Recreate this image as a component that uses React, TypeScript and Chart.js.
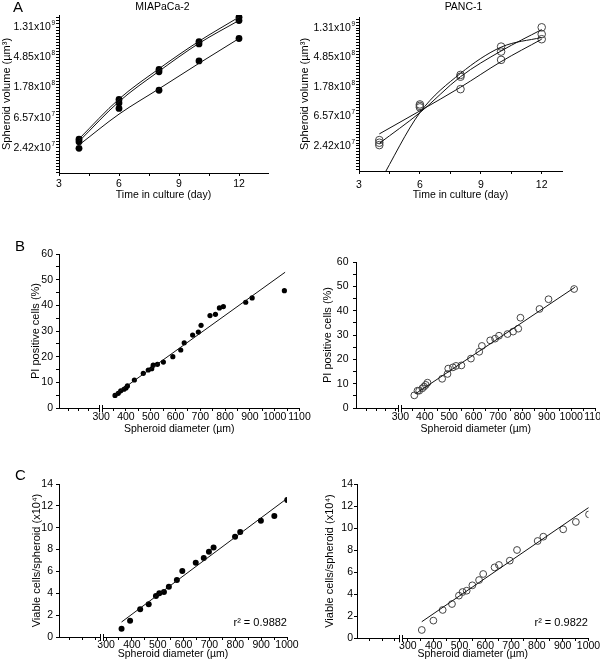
import React, { useEffect, useRef } from 'react';
import { Chart, registerables } from 'chart.js';

Chart.register(...registerables);

const FONT = '"Liberation Sans", Arial, Helvetica, sans-serif';

// ---------------- data ----------------
// Panel A : spheroid volume (µm³) vs time in culture (day)
const DAYS = [4, 6, 8, 10, 12];
const A_X_TICKS = [3, 6, 9, 12];
const A_Y_TICKS = [2.42e7, 6.57e7, 1.78e8, 4.85e8, 1.31e9];

// MIAPaCa-2 replicates
const MIA_VOL_1 = [3.23e7, 1.2e8, 3.25e8, 8.16e8, 1.82e9];
const MIA_VOL_2 = [2.98e7, 1.07e8, 3.0e8, 7.53e8, 1.63e9];
const MIA_VOL_3 = [2.39e7, 8.95e7, 1.63e8, 4.3e8, 9.02e8];
// MIAPaCa-2 fitted growth curves
const MIA_FIT_1 = [3.26e7, 1.22e8, 3.32e8, 8.24e8, 1.83e9];
const MIA_FIT_2 = [3.01e7, 1.12e8, 3.06e8, 7.69e8, 1.64e9];
const MIA_FIT_3 = [2.67e7, 7.4e7, 1.71e8, 3.97e8, 9.02e8];

// PANC-1 replicates
const PANC_VOL_1 = [2.95e7, 9.89e7, 2.69e8, 7.02e8, 1.35e9];
const PANC_VOL_2 = [2.7e7, 9.41e7, 2.53e8, 5.93e8, 1.07e9];
const PANC_VOL_3 = [2.49e7, 8.95e7, 1.66e8, 4.48e8, 9.02e8];
// PANC-1 fitted growth curves
const PANC_FIT_1 = [3.64e7, 7.94e7, 1.77e8, 4.22e8, 9.02e8];
const PANC_FIT_2 = [2.64e7, 7.48e7, 2.53e8, 6.05e8, 1.25e9];
const PANC_FIT_3 = [6.92e6, 7.48e7, 2.83e8, 6.89e8, 9.58e8];

// Panel B : PI positive cells (%) vs spheroid diameter (µm)
const DIAM_TICKS_B = [300, 400, 500, 600, 700, 800, 900, 1000, 1100];
const PI_TICKS = [0, 10, 20, 30, 40, 50, 60];

const MIA_PI_DIAM = [356, 369, 379, 392, 400, 406, 434, 470, 490, 504, 510, 527, 551, 589, 621, 635, 669, 692, 703, 739, 761, 777, 793, 883, 909, 1039];
const MIA_PI = [4.9, 5.7, 6.7, 7.3, 7.8, 8.6, 10.9, 13.5, 14.8, 15.3, 16.7, 17.0, 17.9, 20.0, 22.6, 25.4, 28.4, 29.6, 32.2, 36.0, 36.5, 39.0, 39.5, 41.2, 42.9, 45.7];
const MIA_PI_FIT_DIAM = [349, 1042];
const MIA_PI_FIT = [4.8, 52.9];

const PANC_PI_DIAM = [357, 370, 377, 390, 397, 404, 411, 471, 493, 496, 515, 528, 550, 589, 623, 634, 668, 688, 704, 739, 762, 783, 792, 870, 907, 1012];
const PANC_PI = [5.2, 7.1, 7.1, 8.1, 8.8, 9.5, 10.4, 12.0, 14.0, 16.2, 16.7, 17.3, 17.5, 20.3, 23.1, 25.5, 27.8, 28.5, 29.7, 30.4, 31.4, 32.6, 37.1, 40.7, 44.7, 48.9];
const PANC_PI_FIT_DIAM = [364, 1015];
const PANC_PI_FIT = [6.0, 49.6];

// Panel C : viable cells/spheroid (x10⁴) vs spheroid diameter (µm)
const DIAM_TICKS_C = [300, 400, 500, 600, 700, 800, 900, 1000];
const CELL_TICKS = [0, 2, 4, 6, 8, 10, 12, 14];

const MIA_CELL_DIAM = [360, 393, 432, 465, 493, 506, 524, 543, 574, 595, 647, 678, 698, 716, 799, 819, 899, 951, 1001];
const MIA_CELLS = [0.76, 1.49, 2.53, 2.99, 3.75, 4.0, 4.12, 4.6, 5.21, 6.04, 6.8, 7.23, 7.8, 8.2, 9.18, 9.6, 10.64, 11.07, 12.53];
const MIA_CELL_FIT_DIAM = [360, 1001];
const MIA_CELL_FIT = [1.37, 12.69];
const MIA_R2 = 'r\u00B2 = 0.9882';

const PANC_CELL_DIAM = [354, 399, 435, 471, 498, 512, 528, 550, 576, 592, 636, 653, 695, 723, 803, 825, 902, 951, 1002];
const PANC_CELLS = [0.73, 1.58, 2.55, 3.09, 3.85, 4.18, 4.3, 4.79, 5.27, 5.82, 6.42, 6.64, 7.03, 8.0, 8.82, 9.21, 9.88, 10.55, 11.24];
const PANC_CELL_FIT_DIAM = [354, 1002];
const PANC_CELL_FIT = [1.48, 11.88];
const PANC_R2 = 'r\u00B2 = 0.9822';

// ---------------- helpers ----------------
const pts = (xs: number[], ys: number[]) => xs.map((x, i) => ({ x, y: ys[i] }));

const dots = (xs: number[], ys: number[], r: number) => ({
  data: pts(xs, ys),
  showLine: false,
  pointRadius: r,
  pointBackgroundColor: '#000',
  pointBorderColor: '#000',
  pointBorderWidth: 0,
  pointHoverRadius: r,
});

const rings = (xs: number[], ys: number[], r: number) => ({
  data: pts(xs, ys),
  showLine: false,
  pointRadius: r,
  pointBackgroundColor: 'rgba(255,255,255,0)',
  pointBorderColor: '#444',
  pointBorderWidth: 1,
  pointHoverRadius: r,
});

const curve = (xs: number[], ys: number[], smooth: boolean) => ({
  data: pts(xs, ys),
  showLine: true,
  pointRadius: 0,
  borderColor: '#111',
  borderWidth: 1,
  fill: false,
  cubicInterpolationMode: smooth ? 'monotone' : 'default',
  tension: 0,
});

type Seg = [number, number, number];

interface AxisCfg {
  type: 'linear' | 'logarithmic';
  min: number;
  max: number;
  ticks: number[];
  title: string;
  titleSize: number;
  titlePad: number;
  tickPad: number;
  hideLabels?: boolean;
}

interface PanelCfg {
  id: string;
  left: number;
  top: number;
  width: number;
  height: number;
  padTop: number;
  padRight: number;
  yWidth: number;
  xHeight: number;
  x: AxisCfg;
  y: AxisCfg;
  datasets: any[];
  xMinor?: Seg[];
  yMinor?: Seg[];
  yLogMinorStep?: number;
  breakAt?: number;
  sciGap?: number;
}

function decorPlugin(p: PanelCfg) {
  return {
    id: 'decor_' + p.id,
    // clip fitted curves to the plotting area
    beforeDatasetDraw(chart: any, args: any) {
      const ds = chart.data.datasets[args.index];
      if (!ds || !ds.showLine) return;
      const a = chart.chartArea;
      const ctx = chart.ctx;
      ctx.save();
      ctx.beginPath();
      ctx.rect(a.left, a.top - 0.5, a.right - a.left + 0.5, a.bottom - a.top + 0.5);
      ctx.clip();
    },
    afterDatasetDraw(chart: any, args: any) {
      const ds = chart.data.datasets[args.index];
      if (!ds || !ds.showLine) return;
      chart.ctx.restore();
    },
    afterDraw(chart: any) {
      const ctx = chart.ctx;
      const xs = chart.scales.x;
      const ys = chart.scales.y;
      const a = chart.chartArea;
      const len = 2;
      ctx.save();
      ctx.strokeStyle = '#000';
      ctx.lineWidth = 1;
      const near = (v: number, arr: number[]) => arr.some((t) => Math.abs(t - v) < 1e-6 * Math.max(1, Math.abs(t)));
      const gapL = p.breakAt !== undefined ? xs.getPixelForValue(p.breakAt) - 2.5 : -1;
      const gapR = p.breakAt !== undefined ? gapL + 5 : -1;
      // x minor ticks
      (p.xMinor || []).forEach(([s, e, st]) => {
        for (let v = s; v <= e + 1e-9; v += st) {
          if (v < p.x.min || v > p.x.max || near(v, p.x.ticks)) continue;
          const px = xs.getPixelForValue(v);
          if (px > gapL && px < gapR) continue;
          const x = Math.round(px - 0.5) + 0.5;
          ctx.beginPath();
          ctx.moveTo(x, a.bottom);
          ctx.lineTo(x, a.bottom + 1 + len);
          ctx.stroke();
        }
      });
      // y minor ticks (linear)
      (p.yMinor || []).forEach(([s, e, st]) => {
        for (let v = s; v <= e + 1e-9; v += st) {
          if (v < p.y.min || v > p.y.max || near(v, p.y.ticks)) continue;
          const py = ys.getPixelForValue(v);
          const y = Math.round(py - 0.5) + 0.5;
          ctx.beginPath();
          ctx.moveTo(a.left - 1 - len, y);
          ctx.lineTo(a.left, y);
          ctx.stroke();
        }
      });
      // y minor ticks (log axis, natural-log steps)
      if (p.yLogMinorStep) {
        const st = p.yLogMinorStep;
        const k0 = Math.ceil(Math.log(p.y.min) / st);
        const k1 = Math.floor(Math.log(p.y.max) / st);
        for (let k = k0; k <= k1; k++) {
          if (Math.abs(Math.round(k * st) - k * st) < 1e-6) continue;
          const py = ys.getPixelForValue(Math.exp(k * st));
          const y = Math.round(py - 0.5) + 0.5;
          ctx.beginPath();
          ctx.moveTo(a.left - 1 - len, y);
          ctx.lineTo(a.left, y);
          ctx.stroke();
        }
      }
      // axis break
      if (p.breakAt !== undefined) {
        const bp = xs.getPixelForValue(p.breakAt);
        const xl = Math.floor(bp - 1.5) + 0.5;
        const xr = xl + 3;
        ctx.fillStyle = '#fff';
        ctx.fillRect(xl + 0.5, a.bottom - 1, xr - xl - 1, 6);
        ctx.beginPath();
        ctx.moveTo(xl, a.bottom - 3);
        ctx.lineTo(xl, a.bottom + 4);
        ctx.moveTo(xr, a.bottom - 3);
        ctx.lineTo(xr, a.bottom + 4);
        ctx.stroke();
      }
      // scientific labels with superscript exponents
      if (p.sciGap !== undefined) {
        ctx.fillStyle = '#000';
        ctx.textBaseline = 'middle';
        ctx.textAlign = 'left';
        const R = a.left - p.sciGap;
        p.y.ticks.forEach((v) => {
          const ex = Math.floor(Math.log10(v) + 1e-9);
          const mant = (v / Math.pow(10, ex)).toFixed(2);
          const base = mant + 'x10';
          const expTxt = String(ex);
          ctx.font = `6.5px ${FONT}`;
          const wExp = ctx.measureText(expTxt).width;
          ctx.font = `10.5px ${FONT}`;
          const wBase = ctx.measureText(base).width;
          const py = ys.getPixelForValue(v);
          const xb = R - wExp - 0.5 - wBase;
          ctx.fillText(base, xb, py);
          ctx.font = `6.5px ${FONT}`;
          ctx.fillText(expTxt, xb + wBase + 0.5, py - 4);
        });
      }
      ctx.restore();
    },
  };
}

function scaleOpts(ax: AxisCfg, isX: boolean, fixed: number) {
  return {
    type: ax.type,
    position: isX ? 'bottom' : 'left',
    min: ax.min,
    max: ax.max,
    afterBuildTicks: (s: any) => {
      s.ticks = ax.ticks.map((v) => ({ value: v }));
    },
    afterFit: (s: any) => {
      if (isX) s.height = fixed;
      else s.width = fixed;
      s.paddingLeft = 0;
      s.paddingRight = 0;
      s.paddingTop = 0;
      s.paddingBottom = 0;
    },
    grid: {
      display: true,
      drawOnChartArea: false,
      drawTicks: true,
      tickLength: 3,
      color: '#000',
      lineWidth: 1,
    },
    border: { display: true, color: '#000', width: 1 },
    ticks: {
      autoSkip: false,
      maxRotation: 0,
      minRotation: 0,
      padding: ax.tickPad,
      color: '#000',
      font: { family: FONT, size: 10.5 },
      callback: (v: any) => (ax.hideLabels ? '' : String(v)),
    },
    title: {
      display: true,
      text: ax.title,
      color: '#000',
      font: { family: FONT, size: ax.titleSize },
      padding: isX ? { top: 0, bottom: 0 } : { top: ax.titlePad, bottom: 0 },
    },
  };
}

function buildConfig(p: PanelCfg): any {
  return {
    type: 'scatter',
    data: { datasets: p.datasets },
    options: {
      responsive: false,
      maintainAspectRatio: false,
      animation: false,
      events: [],
      layout: { padding: { left: 0, top: p.padTop, right: p.padRight, bottom: 0 } },
      plugins: {
        legend: { display: false },
        tooltip: { enabled: false },
        title: { display: false },
      },
      scales: {
        x: scaleOpts(p.x, true, p.xHeight),
        y: scaleOpts(p.y, false, p.yWidth),
      },
    },
    plugins: [decorPlugin(p)],
  };
}

// ---------------- panel configurations ----------------
const TIME_TITLE = 'Time in culture (day)';
const VOL_TITLE = 'Spheroid volume (\u00B5m\u00B3)';
const DIAM_TITLE = 'Spheroid diameter (\u00B5m)';
const PI_TITLE = 'PI positive cells (%)';
const CELL_TITLE = 'Viable cells/spheroid (x10\u2074)';

const PANELS: PanelCfg[] = [
  {
    id: 'a1', left: 0, top: 0, width: 285, height: 201, padTop: 15, padRight: 17, yWidth: 59, xHeight: 28,
    x: { type: 'linear', min: 3, max: 13.45, ticks: A_X_TICKS, title: TIME_TITLE, titleSize: 10.5, titlePad: 0, tickPad: 1.6 },
    y: { type: 'logarithmic', min: 1.0575e7, max: 1.9616e9, ticks: A_Y_TICKS, title: VOL_TITLE, titleSize: 11, titlePad: 0, tickPad: 1, hideLabels: true },
    datasets: [
      curve(DAYS, MIA_FIT_1, true),
      curve(DAYS, MIA_FIT_2, true),
      curve(DAYS, MIA_FIT_3, true),
      dots(DAYS, MIA_VOL_1, 3.4),
      dots(DAYS, MIA_VOL_2, 3.4),
      dots(DAYS, MIA_VOL_3, 3.4),
    ],
    xMinor: [[4.5, 13.5, 1.5]],
    yLogMinorStep: 0.1,
    sciGap: 4,
  },
  {
    id: 'a2', left: 298, top: 0, width: 290, height: 201, padTop: 17, padRight: 26, yWidth: 61, xHeight: 30,
    x: { type: 'linear', min: 3, max: 13, ticks: A_X_TICKS, title: TIME_TITLE, titleSize: 10.5, titlePad: 0, tickPad: 5.2 },
    y: { type: 'logarithmic', min: 1.0355e7, max: 1.915e9, ticks: A_Y_TICKS, title: VOL_TITLE, titleSize: 11, titlePad: 0, tickPad: 1, hideLabels: true },
    datasets: [
      curve(DAYS, PANC_FIT_1, true),
      curve(DAYS, PANC_FIT_2, true),
      curve(DAYS, PANC_FIT_3, true),
      rings(DAYS, PANC_VOL_1, 3.8),
      rings(DAYS, PANC_VOL_2, 3.8),
      rings(DAYS, PANC_VOL_3, 3.8),
    ],
    xMinor: [[4.5, 13.5, 1.5]],
    yLogMinorStep: 0.1,
    sciGap: 4,
  },
  {
    id: 'b1', left: 0, top: 230, width: 320, height: 205, padTop: 24, padRight: 20.5, yWidth: 59, xHeight: 27,
    x: { type: 'linear', min: 130, max: 1100, ticks: DIAM_TICKS_B, title: DIAM_TITLE, titleSize: 10.5, titlePad: 0, tickPad: 0 },
    y: { type: 'linear', min: 0, max: 60, ticks: PI_TICKS, title: PI_TITLE, titleSize: 11, titlePad: 29, tickPad: 3 },
    datasets: [
      curve(MIA_PI_FIT_DIAM, MIA_PI_FIT, false),
      dots(MIA_PI_DIAM, MIA_PI, 2.6),
    ],
    xMinor: [[170, 260, 40], [350, 1050, 100]],
    yMinor: [[5, 55, 10]],
    breakAt: 300,
  },
  {
    id: 'b2', left: 300, top: 230, width: 300, height: 205, padTop: 32, padRight: 1.7, yWidth: 56, xHeight: 27,
    x: { type: 'linear', min: 118, max: 1100, ticks: DIAM_TICKS_B, title: DIAM_TITLE, titleSize: 10.5, titlePad: 0, tickPad: 0 },
    y: { type: 'linear', min: 0, max: 60, ticks: PI_TICKS, title: PI_TITLE, titleSize: 11, titlePad: 20.9, tickPad: 4.5 },
    datasets: [
      curve(PANC_PI_FIT_DIAM, PANC_PI_FIT, false),
      rings(PANC_PI_DIAM, PANC_PI, 3.4),
    ],
    xMinor: [[160, 280, 40], [350, 1050, 100]],
    yMinor: [[5, 55, 10]],
    breakAt: 300,
  },
  {
    id: 'c1', left: 0, top: 460, width: 300, height: 200, padTop: 24, padRight: 13, yWidth: 59, xHeight: 23,
    x: { type: 'linear', min: 118, max: 1000, ticks: DIAM_TICKS_C, title: DIAM_TITLE, titleSize: 10.5, titlePad: 0, tickPad: -1.3 },
    y: { type: 'linear', min: 0, max: 14, ticks: CELL_TICKS, title: CELL_TITLE, titleSize: 11, titlePad: 30.4, tickPad: 3 },
    datasets: [
      curve(MIA_CELL_FIT_DIAM, MIA_CELL_FIT, false),
      dots(MIA_CELL_DIAM, MIA_CELLS, 3.0),
    ],
    xMinor: [[160, 260, 50], [350, 950, 100]],
    breakAt: 283,
  },
  {
    id: 'c2', left: 300, top: 460, width: 300, height: 200, padTop: 24, padRight: 11.5, yWidth: 57, xHeight: 22,
    x: { type: 'linear', min: 103, max: 1000, ticks: DIAM_TICKS_C, title: DIAM_TITLE, titleSize: 10.5, titlePad: 0, tickPad: -1.3 },
    y: { type: 'linear', min: 0, max: 14, ticks: CELL_TICKS, title: CELL_TITLE, titleSize: 11, titlePad: 23.4, tickPad: 1 },
    datasets: [
      curve(PANC_CELL_FIT_DIAM, PANC_CELL_FIT, false),
      rings(PANC_CELL_DIAM, PANC_CELLS, 3.4),
    ],
    xMinor: [[150, 250, 50], [350, 950, 100]],
    breakAt: 275,
  },
];

function Panel({ cfg }: { cfg: PanelCfg }) {
  const ref = useRef<HTMLCanvasElement | null>(null);
  useEffect(() => {
    const chart = new Chart(ref.current as HTMLCanvasElement, buildConfig(cfg));
    return () => chart.destroy();
  }, [cfg]);
  return (
    <canvas
      ref={ref}
      width={cfg.width}
      height={cfg.height}
      style={{ position: 'absolute', left: cfg.left, top: cfg.top, width: cfg.width, height: cfg.height }}
    />
  );
}

const textStyle = (size: number): React.CSSProperties => ({
  position: 'absolute',
  fontFamily: FONT,
  fontSize: size,
  lineHeight: `${size}px`,
  color: '#000',
  whiteSpace: 'nowrap',
});

export default function App() {
  return (
    <div style={{ position: 'absolute', left: 0, top: 0, width: 600, height: 665, background: '#fff', overflow: 'hidden' }}>
      {PANELS.map((p) => (
        <Panel key={p.id} cfg={p} />
      ))}
      <div style={{ ...textStyle(15), left: 13, top: -0.6 }}>A</div>
      <div style={{ ...textStyle(15), left: 15, top: 237.7 }}>B</div>
      <div style={{ ...textStyle(15), left: 15, top: 466.7 }}>C</div>
      <div style={{ ...textStyle(10.5), left: 112.5, width: 100, textAlign: 'center', top: 1.4 }}>MIAPaCa-2</div>
      <div style={{ ...textStyle(10.5), left: 413.5, width: 100, textAlign: 'center', top: 1.4 }}>PANC-1</div>
      <div style={{ ...textStyle(11), left: 187, width: 100, textAlign: 'right', top: 616, lineHeight: '13px' }}>{MIA_R2}</div>
      <div style={{ ...textStyle(11), left: 488, width: 100, textAlign: 'right', top: 616, lineHeight: '13px' }}>{PANC_R2}</div>
    </div>
  );
}
